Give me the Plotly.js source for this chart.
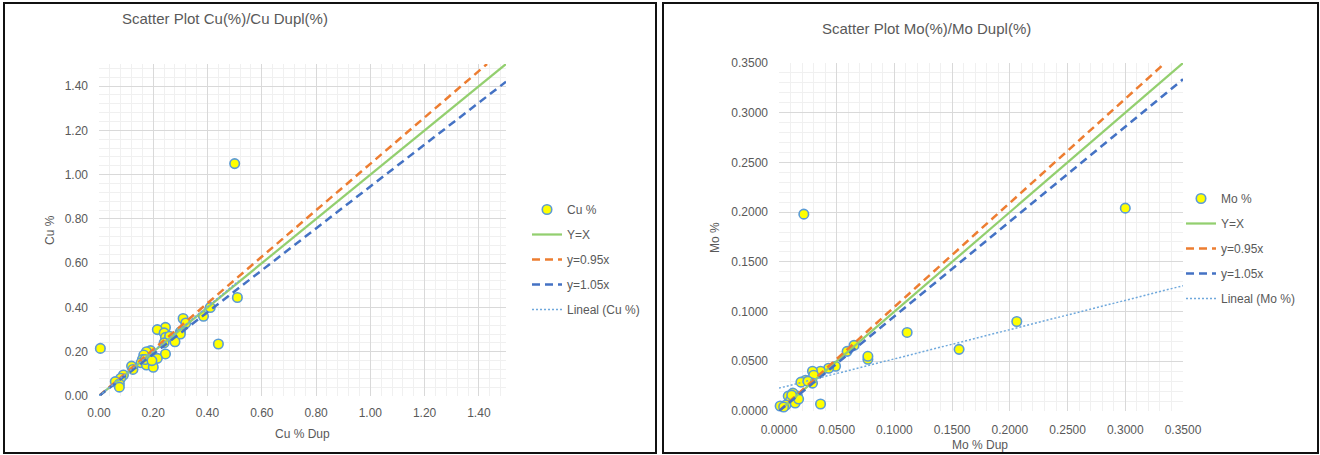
<!DOCTYPE html>
<html>
<head>
<meta charset="utf-8">
<script src="https://cdn.plot.ly/plotly-3.0.1.min.js"></script>
<style>html,body{margin:0;padding:0;background:#fff;}#chart{width:1320px;height:455px;}</style>
</head>
<body>
<div id="chart"></div>
<script>
// ---------- Data: Cu ----------
const cuDup = [0.005,0.50,0.51,0.44,0.41,0.385,0.31,0.32,0.30,0.30,0.245,0.215,0.24,0.245,0.26,0.28,0.24,0.245,0.215,0.19,0.175,0.165,0.16,0.155,0.175,0.20,0.12,0.125,0.09,0.08,0.06,0.075,0.075,0.17,0.195];
const cuVal = [0.215,1.05,0.445,0.235,0.40,0.36,0.35,0.33,0.29,0.28,0.31,0.30,0.285,0.265,0.27,0.245,0.24,0.19,0.17,0.205,0.20,0.185,0.165,0.15,0.14,0.13,0.135,0.12,0.095,0.08,0.065,0.055,0.04,0.165,0.16];
const cuYeqX_x = [0, 1.5];
const cuYeqX_y = [0, 1.5];
const cu095_x = [0, 1.43];
const cu095_y = [0, 1.5];
const cu105_x = [0, 1.5];
const cu105_y = [0, 1.42];
const cuTrend_x = [0, 0.515];
const cuTrend_y = [0.0, 0.52];

// ---------- Data: Mo ----------
const moDup = [0.0215,0.30,0.206,0.156,0.111,0.077,0.077,0.065,0.059,0.049,0.043,0.036,0.036,0.029,0.030,0.029,0.023,0.019,0.025,0.016,0.012,0.008,0.010,0.006,0.001,0.014,0.017,0.011,0.004];
const moVal = [0.198,0.204,0.090,0.062,0.079,0.052,0.055,0.066,0.060,0.045,0.043,0.040,0.007,0.040,0.036,0.028,0.031,0.029,0.030,0.015,0.018,0.015,0.011,0.006,0.005,0.008,0.012,0.016,0.004];
const moYeqX_x = [0, 0.35];
const moYeqX_y = [0, 0.35];
const mo095_x = [0, 0.3344];
const mo095_y = [0, 0.35];
const mo105_x = [0, 0.35];
const mo105_y = [0, 0.3336];
const moTrend_x = [0, 0.35];
const moTrend_y = [0.023, 0.126];

// ---------- Labels ----------
const titleCu = "Scatter Plot Cu(%)/Cu Dupl(%)";
const titleMo = "Scatter Plot Mo(%)/Mo Dupl(%)";
const namesCu = ["Cu %", "Y=X", "y=0.95x", "y=1.05x", "Lineal (Cu %)"];
const namesMo = ["Mo %", "Y=X", "y=0.95x", "y=1.05x", "Lineal (Mo %)"];

const W = 1320, H = 455;
const px = v => v / W;
const py = v => 1 - v / H;

const FONT = "Liberation Sans, Arial, sans-serif";
const GREY = "#595959";
const marker = {color: "#ffff00", size: 9.5, line: {color: "#5b9bd5", width: 1.6}};
const cGreen = "#93cf6f", cOrange = "#ed7d31", cBlue = "#4472c4", cTrend = "#6fa8dc";

function series(xs, ys, names, xa, ya, leg, g) {
  return [
    {x: xs[0], y: ys[0], name: names[0], type: "scatter", mode: "markers", marker: marker, xaxis: xa, yaxis: ya, legend: leg, legendgroup: g+"0", cliponaxis: false},
    {x: xs[1], y: ys[1], name: names[1], type: "scatter", mode: "lines", line: {color: cGreen, width: 2.25}, xaxis: xa, yaxis: ya, legend: leg, legendgroup: g+"1"},
    {x: xs[2], y: ys[2], name: names[2], type: "scatter", mode: "lines", line: {color: cOrange, width: 2.5, dash: "8px,5px"}, xaxis: xa, yaxis: ya, legend: leg, legendgroup: g+"2"},
    {x: xs[3], y: ys[3], name: names[3], type: "scatter", mode: "lines", line: {color: cBlue, width: 2.5, dash: "8px,5px"}, xaxis: xa, yaxis: ya, legend: leg, legendgroup: g+"3"},
    {x: xs[4], y: ys[4], name: names[4], type: "scatter", mode: "lines", line: {color: cTrend, width: 1.5, dash: "2px,2px"}, xaxis: xa, yaxis: ya, legend: leg, legendgroup: g+"4"}
  ];
}

const data = [].concat(
  series([cuDup, cuYeqX_x, cu095_x, cu105_x, cuTrend_x], [cuVal, cuYeqX_y, cu095_y, cu105_y, cuTrend_y], namesCu, "x", "y", "legend", "cu"),
  series([moDup, moYeqX_x, mo095_x, mo105_x, moTrend_x], [moVal, moYeqX_y, mo095_y, mo105_y, moTrend_y], namesMo, "x2", "y2", "legend2", "mo")
);

function axis(domain, range, dtick, minor, fmt, anchor, standoff) {
  return {
    domain: domain, range: range, dtick: dtick, tick0: 0, tickformat: fmt,
    anchor: anchor, showgrid: true, gridcolor: "#d9d9d9", gridwidth: 1,
    zeroline: false, showline: false, ticks: "", ticklabelstandoff: standoff,
    tickfont: {family: FONT, size: 12, color: GREY},
    minor: {dtick: minor, showgrid: true, gridcolor: "#f0f0f0", gridwidth: 1},
    fixedrange: true
  };
}

const legendBase = {
  bgcolor: "rgba(0,0,0,0)", borderwidth: 0, traceorder: "grouped", tracegroupgap: 6,
  font: {family: FONT, size: 12, color: GREY}, xanchor: "left", yanchor: "top"
};

function ann(text, x, y, size, angle) {
  return {text: text, x: px(x), y: py(y), xref: "paper", yref: "paper", xanchor: "center", yanchor: "middle",
          showarrow: false, textangle: angle || 0, font: {family: FONT, size: size, color: GREY}};
}

const layout = {
  width: W, height: H,
  margin: {l: 0, r: 0, t: 0, b: 0},
  paper_bgcolor: "#fff", plot_bgcolor: "#fff",
  showlegend: true,
  xaxis: axis([px(99), px(506)], [0, 1.5], 0.2, 0.04, ".2f", "y", 8),
  yaxis: axis([py(396), py(64)], [0, 1.5], 0.2, 0.04, ".2f", "x", 10),
  xaxis2: axis([px(779), px(1183)], [0, 0.35], 0.05, 0.01, ".4f", "y2", 10),
  yaxis2: axis([py(411), py(63)], [0, 0.35], 0.05, 0.01, ".4f", "x2", 10),
  legend: Object.assign({}, legendBase, {x: px(527), y: py(195)}),
  legend2: Object.assign({}, legendBase, {x: px(1181), y: py(184)}),
  annotations: [
    ann(titleCu, 225, 19, 15),
    ann(titleMo, 926, 29, 15),
    ann("Cu %", 50, 230, 12, -90),
    ann("Cu % Dup", 302, 434, 12),
    ann("Mo %", 715, 238, 12, -90),
    ann("Mo % Dup", 980, 445, 12)
  ],
  shapes: [
    {type: "rect", xref: "paper", yref: "paper", x0: px(4), x1: px(656), y0: py(453), y1: py(3), line: {color: "#111", width: 2}},
    {type: "rect", xref: "paper", yref: "paper", x0: px(663), x1: px(1318), y0: py(453), y1: py(3), line: {color: "#111", width: 2}}
  ]
};

Plotly.newPlot("chart", data, layout, {displayModeBar: false, staticPlot: true});
</script>
</body>
</html>
